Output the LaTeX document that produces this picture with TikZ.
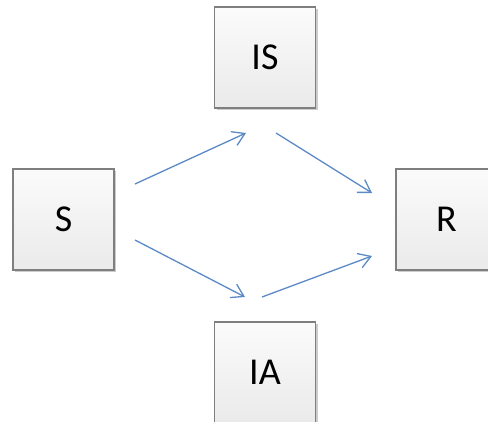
\documentclass[tikz,border=0pt]{standalone}
\usepackage{fontspec}
\setmainfont{Carlito}
\usetikzlibrary{arrows.meta,shadows}
\definecolor{boxline}{HTML}{7F7F7F}
\definecolor{boxtop}{HTML}{FBFBFB}
\definecolor{boxlow}{HTML}{EAEAEA}
\definecolor{flow}{HTML}{5B8AC6}
\tikzset{
  state/.style={draw=boxline, line width=1.2pt, top color=boxtop, bottom color=boxlow,
    minimum width=101pt, minimum height=101pt, inner sep=0pt,
    font=\fontsize{38}{40}\selectfont,
    drop shadow={shadow xshift=2pt, shadow yshift=-2pt, opacity=0.2, fill=black}},
  flowarrow/.style={draw=flow, line width=1.3pt,
    -{Straight Barb[length=12pt, width=15pt, line width=1.3pt]}}
}
\begin{document}
\begin{tikzpicture}[x=1pt, y=-1pt]
  \useasboundingbox (0,0) rectangle (488,421);
  \clip (0,0) rectangle (488,421);
  \fill[white] (0,0) rectangle (488,421);
  % states
  \node[state] (S)  at (63.5,219.5)  {S};
  \node[state] (IS) at (265,57.5)    {IS};
  \node[state] (IA) at (265,372.5)   {IA};
  \node[state] (R)  at (446.5,219.5) {R};
  % arrow ends between the states
  \coordinate (a1) at (135,184);
  \coordinate (b1) at (246,133);
  \coordinate (a2) at (276,133);
  \coordinate (b2) at (372,193);
  \coordinate (a3) at (135,240);
  \coordinate (b3) at (245,297);
  \coordinate (a4) at (262,297);
  \coordinate (b4) at (372,256);
  \draw[flowarrow] (a1) -- (b1);
  \draw[flowarrow] (a2) -- (b2);
  \draw[flowarrow] (a3) -- (b3);
  \draw[flowarrow] (a4) -- (b4);
\end{tikzpicture}
\end{document}
